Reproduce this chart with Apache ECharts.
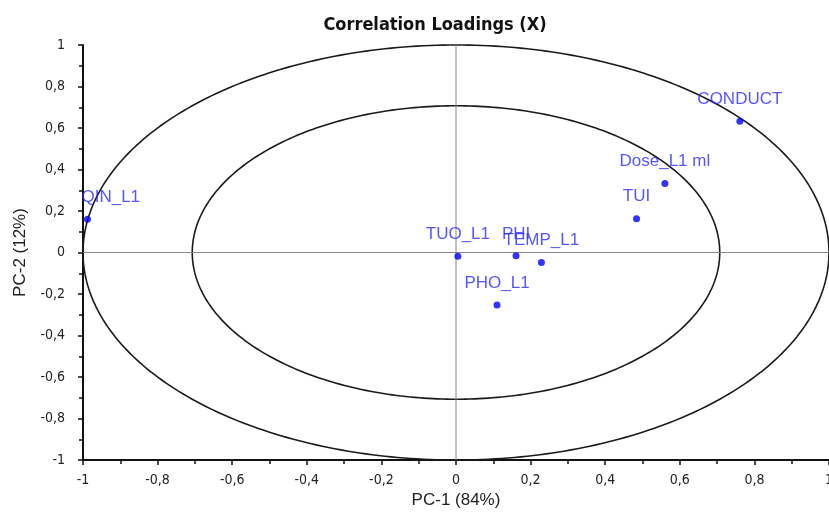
<!DOCTYPE html>
<html><head><meta charset="utf-8">
<script src="https://cdn.jsdelivr.net/npm/echarts@6/dist/echarts.min.js"></script>
<style>html,body{margin:0;padding:0;background:#fff}#c{width:829px;height:515px}</style>
</head><body><div id="c"></div>
<script>
const variableNames = ['CONDUCT','Dose_L1 ml','TUI','QIN_L1','TUO_L1','PHI','TEMP_L1','PHO_L1'];
const pc1Values = [0.761, 0.560, 0.484, -0.988, 0.005, 0.161, 0.229, 0.110];
const pc2Values = [0.632, 0.333, 0.163, 0.160, -0.018, -0.016, -0.048, -0.253];
const circleRadii = [1, 0.7071];

const fmt = v => { const r = Math.round(v*10)/10; return String(r).replace('.', ','); };
const narrow = '"DejaVu Sans Condensed", "Liberation Sans", Arial, sans-serif';
const sans = '"Liberation Sans", Arial, sans-serif';

const pts = variableNames.map((n,i) => {
  const p = {name:n, value:[pc1Values[i], pc2Values[i]]};
  if (pc1Values[i] < -0.9) p.label = {position:'top', align:'left', offset:[-6,0]};
  return p;
});

const chart = echarts.init(document.getElementById('c'));
chart.setOption({
  animation:false,
  title:{text:'Correlation Loadings (X)', left:430, top:11, textAlign:'center',
    textStyle:{fontFamily:narrow, fontSize:18, fontWeight:'bold', color:'#111'}},
  grid:{left:83, right:0, top:45, bottom:55, containLabel:false, outerBoundsMode:'none'},
  xAxis:{type:'value', min:-1, max:1, interval:0.2,
    name:'PC-1 (84%)', nameLocation:'middle', nameGap:30,
    nameTextStyle:{fontFamily:sans, fontSize:17, color:'#222'},
    axisLine:{show:true, onZero:false, lineStyle:{color:'#111', width:2}},
    axisTick:{show:true, length:5, lineStyle:{color:'#111', width:1.5}},
    minorTick:{show:true, splitNumber:2, length:4, lineStyle:{color:'#111', width:1.5}},
    splitLine:{show:false},
    axisLabel:{formatter:fmt, fontFamily:narrow, fontSize:14, color:'#222', margin:13, showMaxLabel:true, showMinLabel:true, hideOverlap:false}},
  yAxis:{type:'value', min:-1, max:1, interval:0.2,
    name:'PC-2 (12%)', nameLocation:'middle', nameGap:54, nameRotate:90,
    nameTextStyle:{fontFamily:sans, fontSize:17, color:'#222'},
    axisLine:{show:true, onZero:false, lineStyle:{color:'#111', width:2}},
    axisTick:{show:true, length:5, lineStyle:{color:'#111', width:1.5}},
    minorTick:{show:true, splitNumber:2, length:4, lineStyle:{color:'#111', width:1.5}},
    splitLine:{show:false},
    axisLabel:{formatter:fmt, fontFamily:narrow, fontSize:14, color:'#222', margin:18}},
  series:[
    {type:'custom', silent:true, z:1,
      data: circleRadii.map(r => [r]),
      renderItem:(params, api) => {
        const r = api.value(0);
        const points = [];
        for (let k=0;k<=360;k++){ const t=k*Math.PI/180; points.push(api.coord([r*Math.cos(t), r*Math.sin(t)])); }
        return {type:'polyline', shape:{points}, style:{fill:null, stroke:'#1a1a1a', lineWidth:1.6}};
      }},
    {type:'line', silent:true, z:2, symbol:'none', data:[[0,-1],[0,1]], lineStyle:{color:'#888', width:1}},
    {type:'line', silent:true, z:2, symbol:'none', data:[[-1,0],[1,0]], lineStyle:{color:'#888', width:1}},
    {type:'scatter', z:5, symbol:'circle', symbolSize:7, itemStyle:{color:'#0000ff'},
      data: pts,
      label:{show:true, position:'top', distance:10, formatter:'{b}', color:'#2a2aff',
        fontFamily:sans, fontSize:17}}
  ]
});
</script></body></html>
